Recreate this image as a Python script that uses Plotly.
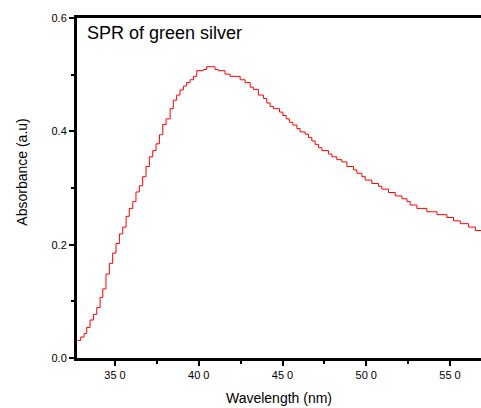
import plotly.graph_objects as go

wavelength = [327.5, 328.1, 329.5, 331.5, 333.1, 335.1, 337.1, 339.1, 341.1, 342.7, 344.6,
              346.6, 348.6, 350.6, 352.6, 354.6, 356.6, 358.5, 360.6, 362.5, 364.5,
              366.5, 368.5, 370.5, 372.5, 374.5, 376.5, 378.5, 380.5, 382.9, 384.8,
              386.8, 388.8, 390.8, 392.8, 394.8, 396.8, 398.8, 402.7, 404.7, 409.7,
              411.7, 415.7, 418.7, 424.7, 427.7, 430.7, 432.6, 435.6, 438.6, 440.6,
              442.6, 444.6, 448.2, 450.2, 452.2, 454.1, 456.2, 458.6, 460.5, 463.5,
              465.5, 467.5, 469.5, 471.5, 473.5, 477.4, 479.5, 482.4, 485.4, 488.4,
              492.4, 494.4, 497.4, 499.4, 503.3, 507.3, 509.3, 513.3, 517.3, 521.3,
              524.3, 526.2, 530.2, 536.2, 542.2, 548.1, 552.1, 556.1, 561.1, 565.1, 569.0]
absorbance = [0.031, 0.031, 0.037, 0.043, 0.054, 0.067, 0.077, 0.089, 0.107, 0.122, 0.148,
              0.167, 0.185, 0.202, 0.219, 0.231, 0.250, 0.264, 0.276, 0.293, 0.304,
              0.320, 0.338, 0.355, 0.366, 0.378, 0.394, 0.412, 0.422, 0.440, 0.455,
              0.464, 0.473, 0.480, 0.486, 0.491, 0.497, 0.507, 0.509, 0.514, 0.509,
              0.507, 0.501, 0.497, 0.491, 0.486, 0.478, 0.474, 0.464, 0.458, 0.450,
              0.444, 0.440, 0.434, 0.428, 0.422, 0.416, 0.411, 0.405, 0.399, 0.395,
              0.389, 0.383, 0.377, 0.371, 0.366, 0.360, 0.355, 0.350, 0.346, 0.338,
              0.332, 0.326, 0.320, 0.314, 0.308, 0.303, 0.298, 0.292, 0.286, 0.281,
              0.276, 0.270, 0.264, 0.258, 0.253, 0.248, 0.242, 0.237, 0.231, 0.225, 0.225]

x_tickvals = [350, 400, 450, 500, 550]
x_ticktext = ["35 0", "40 0", "45 0", "50 0", "55 0"]
y_tickvals = [0.0, 0.2, 0.4, 0.6]
y_ticktext = ["0.0", "0.2", "0.4", "0.6"]

font_family = "Liberation Sans, Arial, sans-serif"

fig = go.Figure()
fig.add_trace(go.Scatter(
    x=wavelength, y=absorbance, mode="lines",
    line=dict(color="#ff0000", width=1, shape="hv"),
    showlegend=False,
))

fig.update_layout(
    width=481, height=408,
    margin=dict(l=77, r=0, t=18, b=50),
    paper_bgcolor="white", plot_bgcolor="white",
    font=dict(family=font_family, color="black", size=11),
    xaxis=dict(
        range=[327.3, 568.5], tickvals=x_tickvals, ticktext=x_ticktext,
        showline=True, linecolor="black", linewidth=3, mirror=True,
        ticks="outside", ticklen=5, tickwidth=2, tickcolor="black",
        minor=dict(tickvals=[375, 425, 475, 525], ticks="outside", ticklen=3, tickwidth=2, tickcolor="black"),
        showgrid=False, zeroline=False,
        title=dict(text="Wavelength (nm)", font=dict(size=14), standoff=13),
        tickfont=dict(size=11),
    ),
    yaxis=dict(
        range=[0.0, 0.6], tickvals=y_tickvals, ticktext=y_ticktext,
        showline=True, linecolor="black", linewidth=3, mirror=False,
        ticks="outside", ticklen=5, tickwidth=2, tickcolor="black",
        minor=dict(tickvals=[0.1, 0.3, 0.5], ticks="outside", ticklen=3, tickwidth=2, tickcolor="black"),
        showgrid=False, zeroline=False,
        tickfont=dict(size=11),
    ),
    annotations=[
        dict(
            text="SPR of green silver", xref="paper", yref="paper",
            x=0.02, y=0.99, xanchor="left", yanchor="top", showarrow=False,
            font=dict(size=18, color="black", family=font_family),
        ),
        dict(
            text="Absorbance (a.u)", xref="paper", yref="paper",
            x=-0.137, y=0.547, xanchor="center", yanchor="middle", textangle=-90,
            showarrow=False, font=dict(size=14, color="black", family=font_family),
        ),
    ],
)

fig.write_html("out.html", config={"displayModeBar": False},
               post_script="document.body.style.margin='0';document.body.style.overflow='hidden';")
